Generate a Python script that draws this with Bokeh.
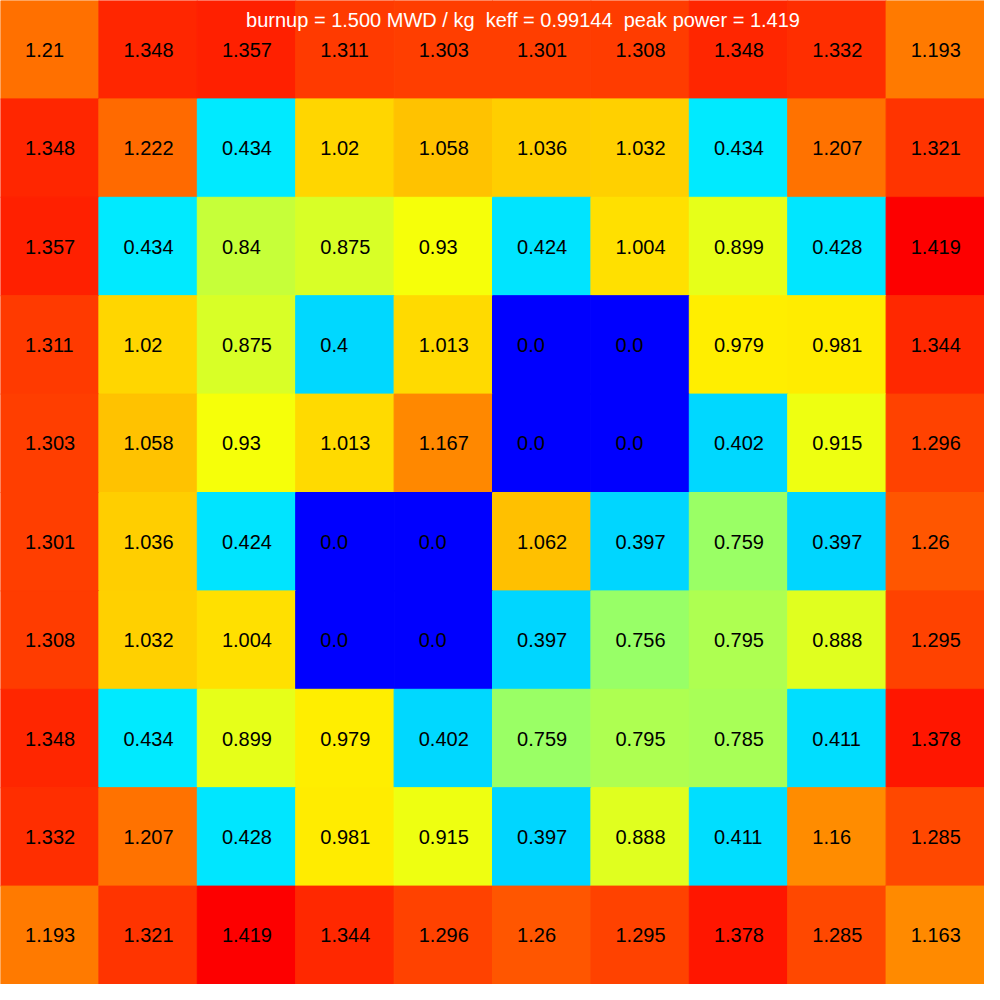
import numpy as np
from bokeh.plotting import figure
from bokeh.models import ColumnDataSource, LinearColorMapper, Label
from bokeh.transform import transform
from bokeh.core.properties import value
from bokeh.embed import file_html
from bokeh.resources import INLINE

# ---- data (rows top to bottom) ----
row0 = [1.21, 1.348, 1.357, 1.311, 1.303, 1.301, 1.308, 1.348, 1.332, 1.193]
row1 = [1.348, 1.222, 0.434, 1.02, 1.058, 1.036, 1.032, 0.434, 1.207, 1.321]
row2 = [1.357, 0.434, 0.84, 0.875, 0.93, 0.424, 1.004, 0.899, 0.428, 1.419]
row3 = [1.311, 1.02, 0.875, 0.4, 1.013, 0.0, 0.0, 0.979, 0.981, 1.344]
row4 = [1.303, 1.058, 0.93, 1.013, 1.167, 0.0, 0.0, 0.402, 0.915, 1.296]
row5 = [1.301, 1.036, 0.424, 0.0, 0.0, 1.062, 0.397, 0.759, 0.397, 1.26]
row6 = [1.308, 1.032, 1.004, 0.0, 0.0, 0.397, 0.756, 0.795, 0.888, 1.295]
row7 = [1.348, 0.434, 0.899, 0.979, 0.402, 0.759, 0.795, 0.785, 0.411, 1.378]
row8 = [1.332, 1.207, 0.428, 0.981, 0.915, 0.397, 0.888, 0.411, 1.16, 1.285]
row9 = [1.193, 1.321, 1.419, 1.344, 1.296, 1.26, 1.295, 1.378, 1.285, 1.163]
rows = [row0, row1, row2, row3, row4, row5, row6, row7, row8, row9]
title_text = "burnup = 1.500 MWD / kg  keff = 0.99144  peak power = 1.419"

# ---- jet palette (blue at 1/8, red at 7/8) ----
def jet(t):
    r = np.interp(t, [0, 0.375, 0.625, 0.875, 1], [0, 0, 1, 1, 0.5])
    g = np.interp(t, [0, 0.125, 0.375, 0.625, 0.875, 1], [0, 0, 1, 1, 0, 0])
    b = np.interp(t, [0, 0.125, 0.375, 0.625, 1], [0.5, 1, 1, 0, 0])
    return "#%02x%02x%02x" % (int(round(r * 255)), int(round(g * 255)), int(round(b * 255)))

palette = [jet(i / 511) for i in range(512)]
vmin = min(min(r) for r in rows)
vmax = max(max(r) for r in rows)
span = (vmax - vmin) / 0.75
mapper = LinearColorMapper(palette=palette, low=vmin - 0.125 * span,
                           high=vmax + 0.125 * span)

n = len(rows)
xs, ys, vals, labels = [], [], [], []
for r, row in enumerate(rows):
    for c, v in enumerate(row):
        xs.append(c + 0.5)
        ys.append(n - r - 0.5)
        vals.append(v)
        labels.append(str(v))
src = ColumnDataSource(dict(x=xs, y=ys, v=vals, label=labels,
                            tx=[x - 0.25 for x in xs]))

p = figure(width=984, height=984, x_range=(0, n), y_range=(0, n),
           output_backend="svg", toolbar_location=None,
           min_border=0, min_border_left=0, min_border_right=0,
           min_border_top=0, min_border_bottom=0)
p.axis.visible = False
p.grid.visible = False
p.outline_line_color = None
p.background_fill_color = "white"

p.rect(x="x", y="y", width=1, height=1, source=src,
       fill_color=transform("v", mapper), line_color=transform("v", mapper),
       line_width=1)
p.text(x="tx", y="y", text="label", source=src, text_align="left",
       text_baseline="middle", text_font=value("Liberation Sans"),
       text_font_size="20px", text_color="black")

p.add_layout(Label(x=5.31, y=n - 0.2, text=title_text.replace("  ", "\u00a0\u00a0"),
                   text_align="center", text_baseline="alphabetic",
                   text_color="white", text_font="Liberation Sans",
                   text_font_size="20px"))

open("out.html", "w").write(file_html(p, INLINE))
